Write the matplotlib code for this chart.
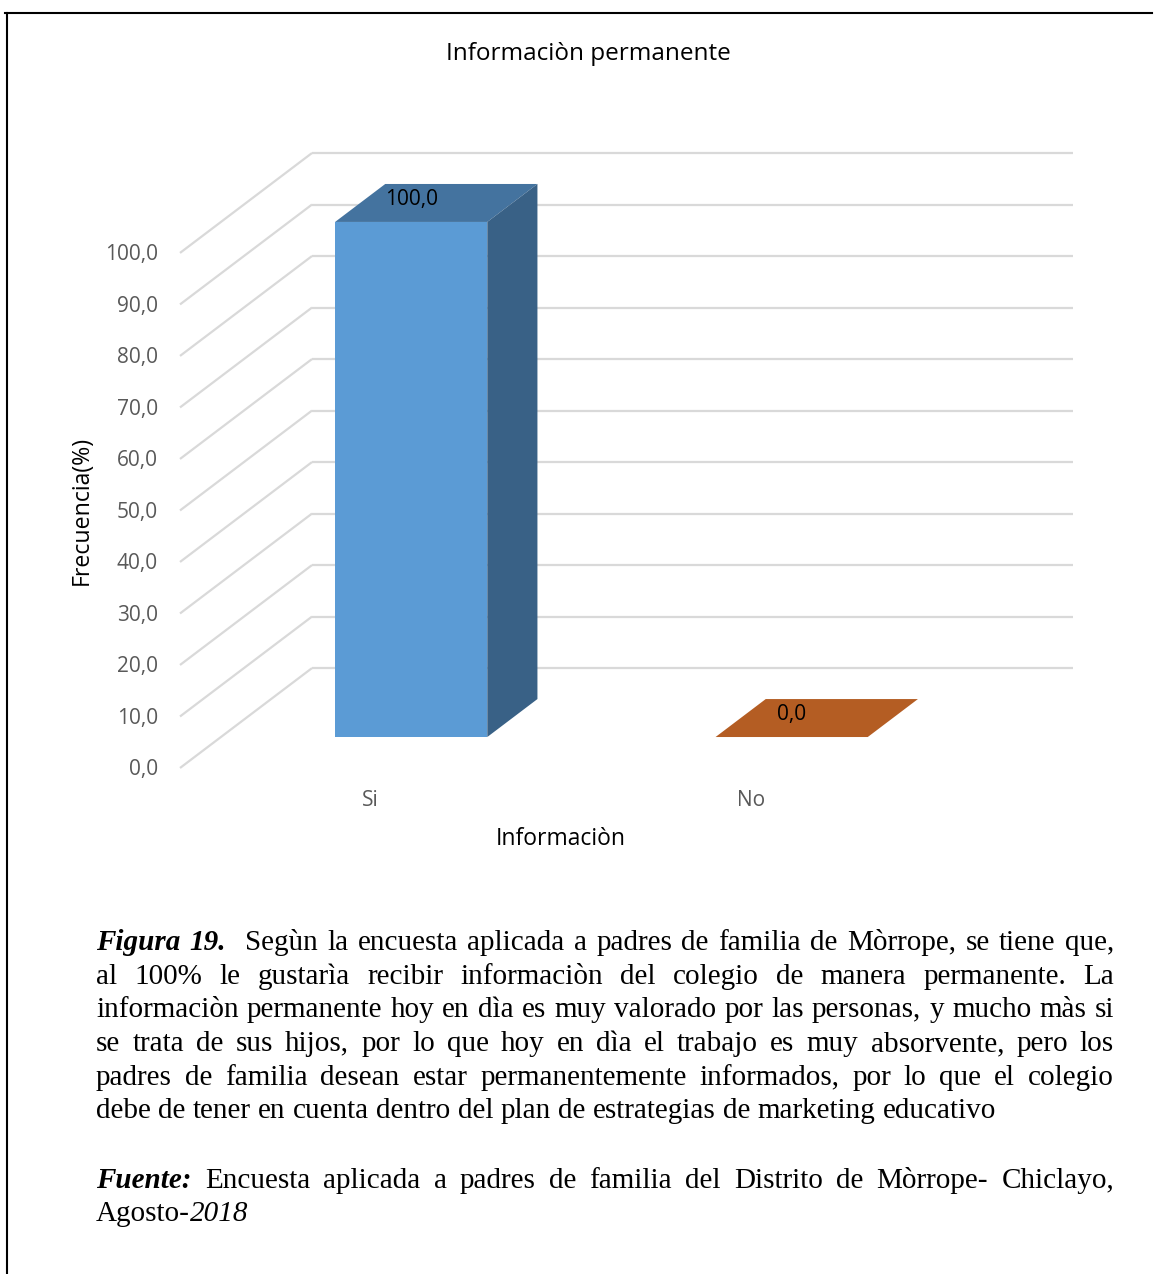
import matplotlib
matplotlib.use('Agg')
import matplotlib.pyplot as plt
from matplotlib.patches import Polygon
from matplotlib.lines import Line2D
from matplotlib.transforms import offset_copy

# chart data
categories = ['Si', 'No']
frecuencia = [100.0, 0.0]
y_ticks = [0, 10, 20, 30, 40, 50, 60, 70, 80, 90, 100]

chart_title = 'Informaciòn permanente'
x_title = 'Informaciòn'
y_title = 'Frecuencia(%)'

# caption below the chart: each line is a list of (text, style) runs.
# a run joins the previous one with one space per leading blank, none if it has no blank
caption_lines = [
    [('Figura 19.', 'bi'), ('  Segùn la encuesta aplicada a padres de familia de Mòrrope, se tiene que,', 'r')],
    [('al 100% le gustarìa recibir informaciòn del colegio de manera permanente. La', 'r')],
    [('informaciòn permanente hoy en dìa es muy valorado por las personas, y mucho màs si', 'r')],
    [('se trata de sus hijos, por lo que hoy en dìa el trabajo es muy absorvente, pero los', 'r')],
    [('padres de familia desean estar permanentemente informados, por lo que el colegio', 'r')],
    [('debe de tener en cuenta dentro del plan de estrategias de marketing educativo', 'r')],
]
source_lines = [
    [('Fuente:', 'bi'), (' Encuesta aplicada a padres de familia del Distrito de Mòrrope- Chiclayo,', 'r')],
    [('Agosto-', 'r'), ('2018', 'i')],
]

front_colors = ['#5b9bd5', '#ed7d31']
top_colors = ['#44739f', '#b45d23']
side_colors = ['#396186', '#a14f1b']
grid_color = '#d9d9d9'
tick_color = '#595959'

W, H = 1155, 1274
plt.rcParams['font.family'] = ['Open Sans', 'DejaVu Sans']

fig = plt.figure(figsize=(W / 100, H / 100), dpi=100)

# pseudo-3D geometry (depth offsets in data units)
DX = 0.347
DY = 19.4
f0, f1 = 0.31, 0.69
bar_w = 0.4

ax = fig.add_axes([180 / W, 1 - 768 / H, 893 / W, 615 / H])
ax.set_xlim(-0.5, 1.5 + DX)
ax.set_ylim(0, 100 + DY)
ax.axis('off')

# back wall gridlines and the diagonal floor-to-wall lines
for v in y_ticks:
    ax.plot([-0.5, -0.5 + DX], [v, v + DY], color=grid_color, lw=1.6,
            zorder=1, clip_on=False, solid_capstyle='butt')
    ax.plot([-0.5 + DX, 1.5 + DX], [v + DY, v + DY], color=grid_color,
            lw=1.6, zorder=1, clip_on=False, solid_capstyle='butt')

tick_tr = offset_copy(ax.transData, fig, x=-22, y=-2, units='dots')
for v in y_ticks:
    ax.text(-0.5, v, f'{v:.1f}'.replace('.', ','), transform=tick_tr,
            ha='right', va='center', fontsize=15, color=tick_color)

cat_tr = offset_copy(ax.transData, fig, x=0, y=-32, units='dots')
for i, c in enumerate(categories):
    ax.text(i, 0, c, transform=cat_tr, ha='center', va='center',
            fontsize=15, color=tick_color)

# bars: front face, top face, right side face
d = f1 - f0
lbl_tr = offset_copy(ax.transData, fig, x=0, y=-2, units='dots')
for i, val in enumerate(frecuencia):
    xc = i + f0 * DX
    base = f0 * DY
    ax.bar(xc, val, width=bar_w, bottom=base, color=front_colors[i],
           zorder=3)
    xl, xr = xc - bar_w / 2, xc + bar_w / 2
    top = val + base
    ax.add_patch(Polygon([(xl, top), (xr, top), (xr + d * DX, top + d * DY),
                          (xl + d * DX, top + d * DY)],
                         closed=True, facecolor=top_colors[i],
                         edgecolor='none', zorder=3))
    if val > 0:
        ax.add_patch(Polygon([(xr, base), (xr, top),
                              (xr + d * DX, top + d * DY),
                              (xr + d * DX, base + d * DY)],
                             closed=True, facecolor=side_colors[i],
                             edgecolor='none', zorder=3))
    ax.text(xc, top + 4.8, f'{val:.1f}'.replace('.', ','), ha='center',
            va='center', fontsize=15, color='black', zorder=4,
            transform=lbl_tr)

fig.text(588 / W, 1 - 54 / H, chart_title, ha='center', va='center',
         fontsize=17.5, color='black')
fig.text(561 / W, 1 - 839 / H, x_title, ha='center', va='center',
         fontsize=16.5, color='black')
fig.text(82 / W, 1 - 510 / H, y_title, ha='center', va='center',
         rotation=90, fontsize=16.7, color='black')

# page border (top and left edges only)
fig.add_artist(Line2D([5 / W, 1152 / W], [1 - 13 / H, 1 - 13 / H],
                      color='black', lw=1.5))
fig.add_artist(Line2D([7 / W, 7 / W], [1 - 13 / H, 0], color='black',
                      lw=1.5))

styles = {'r': dict(style='normal', weight='normal'),
          'i': dict(style='italic', weight='normal'),
          'bi': dict(style='italic', weight='bold')}
serif_size = 21
serif = dict(family=['Liberation Serif', 'DejaVu Serif'], fontsize=serif_size)
renderer = fig.canvas.get_renderer()


def draw_line(runs, baseline, x0, x1, justify):
    # each word carries how many gaps come before it
    words = []
    for r, (text, st) in enumerate(runs):
        lead = len(text) - len(text.lstrip(' '))
        for k, p in enumerate(text.strip(' ').split(' ')):
            if k == 0 and r > 0:
                wgt = lead
            else:
                wgt = 1
            words.append((p, st, wgt))
    objs = []
    for p, st, wgt in words:
        t = fig.text(0, 1 - baseline / H, p, va='baseline', ha='left',
                     **serif, **styles[st])
        objs.append((t, t.get_window_extent(renderer).width, wgt))
    space = 0.25 * serif_size * 100 / 72
    n_gaps = sum(wgt for _, _, wgt in objs[1:])
    total = sum(w for _, w, _ in objs)
    if justify and n_gaps:
        gap = (x1 - x0 - total) / n_gaps
    else:
        gap = space
    x = x0
    for k, (t, w, wgt) in enumerate(objs):
        if k > 0:
            x += gap * wgt
        t.set_x(x / W)
        x += w


baselines = [950, 984, 1017, 1051, 1085, 1118]
for k, runs in enumerate(caption_lines):
    draw_line(runs, baselines[k], 96, 1114, k < len(caption_lines) - 1)
draw_line(source_lines[0], 1188, 96, 1114, True)
draw_line(source_lines[1], 1221, 96, 1114, False)

fig.savefig('out.png', dpi=100)
